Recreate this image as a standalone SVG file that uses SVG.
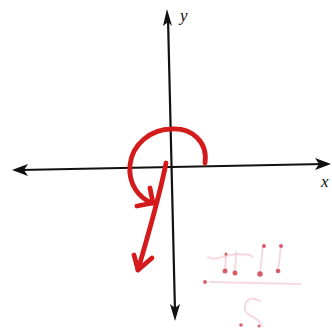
<svg xmlns="http://www.w3.org/2000/svg" width="332" height="328" viewBox="0 0 332 328">
<style>
.axis{stroke:#111;stroke-width:2.2;fill:none;stroke-linecap:round}
.head{fill:#111;stroke:none}
.red{stroke:#d41a1a;stroke-width:4.8;fill:none;stroke-linecap:round;stroke-linejoin:round}
.lbl{font-family:"Liberation Serif",serif;font-style:italic;font-size:17px;fill:#111}
.ghost{stroke:#eebcc6;stroke-width:2;fill:none;stroke-linecap:round;opacity:0.55}
.dot{fill:#c82030;opacity:0.7}
</style>
<rect width="332" height="328" fill="#ffffff"/>
<g id="connectors">
  <g id="y-axis">
    <line class="axis" x1="168" y1="18" x2="175" y2="312"/>
    <polygon class="head" points="167,9 172,26 168,22 163,26"/>
    <polygon class="head" points="175,321 170,304 175,308 180,304"/>
  </g>
  <g id="x-axis">
    <line class="axis" x1="20" y1="170" x2="324" y2="164"/>
    <polygon class="head" points="12,170 28,164 24,170 28,176"/>
    <polygon class="head" points="331,164 315,158 319,164 315,170"/>
  </g>
  <g id="spiral">
    <path class="red" d="M205,163 C208,142 192,128 172,129 C150,129 132,145 130,165 C128,184 139,198 152,203"/>
    <path class="red" d="M137,206 L153,203 L150,188"/>
    <path class="red" d="M166,163 C160,195 148,235 138,270"/>
    <path class="red" d="M134,255 L138,270 L152,258"/>
  </g>
</g>
<text class="lbl" x="180" y="21">y</text>
<text class="lbl" x="321" y="187">x</text>
<g id="bleed">
  <path class="ghost" d="M208,257 C215,262 225,254 240,254 C245,256 250,252 252,257"/>
  <path class="ghost" d="M226,254 L225,271 M236,252 L235,273 M263,246 L260,274 M281,246 L278,271"/>
  <path class="ghost" d="M210,282 L300,284" opacity="0.3"/>
  <path class="ghost" d="M260,301 C250,296 244,300 245,310 C248,318 258,316 262,326"/>
  <circle class="dot" cx="225" cy="271" r="2.5"/>
  <circle class="dot" cx="235" cy="273" r="2.5"/>
  <circle class="dot" cx="260" cy="274" r="2.8"/>
  <circle class="dot" cx="278" cy="271" r="2.3"/>
  <circle class="dot" cx="264" cy="246" r="2"/>
  <circle class="dot" cx="281" cy="246" r="2"/>
  <circle class="dot" cx="226" cy="254" r="1.5"/>
  <circle class="dot" cx="205" cy="282" r="2"/>
  <circle class="dot" cx="241" cy="325" r="1.8"/>
  <circle class="dot" cx="259" cy="326" r="1.5"/>
</g>
</svg>
